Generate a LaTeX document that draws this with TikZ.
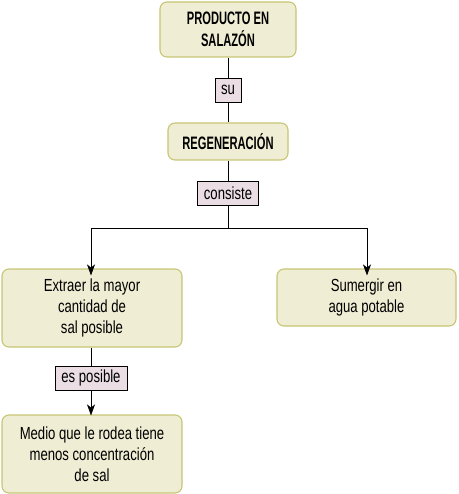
\documentclass[tikz,border=0pt]{standalone}
\usepackage{fontspec}
\setmainfont{Liberation Sans}[FakeStretch=0.75, BoldFeatures={FakeStretch=0.62}]
\usetikzlibrary{arrows.meta}
\definecolor{boxfill}{HTML}{EFEDD3}
\definecolor{boxline}{HTML}{C8C574}
\definecolor{labfill}{HTML}{EADDE4}
\tikzset{
  concept/.style={draw=boxline, fill=boxfill, line width=1.1pt, rounded corners=7pt, align=center, font=\fontsize{17.5}{21}\selectfont, inner sep=0pt},
  title/.style={concept, font=\bfseries\fontsize{18}{22}\selectfont},
  linkw/.style={draw=black, fill=labfill, line width=0.8pt, inner sep=0pt, font=\fontsize{17.5}{20}\selectfont},
  conn/.style={line width=0.8pt},
  arr/.style={conn, -{Stealth[length=11pt,width=8pt,inset=3pt]}}
}
\begin{document}
\begin{tikzpicture}[x=1pt,y=-1pt]
\useasboundingbox (0,0) rectangle (458,494);
\node[title, minimum width=136pt, minimum height=55pt] (prod) at (228,29.5) {PRODUCTO EN\\SALAZÓN};
\node[linkw, minimum width=26pt, minimum height=24pt] (su) at (228,90) {su};
\node[title, minimum width=120pt, minimum height=37pt] (reg) at (228,141.5) {REGENERACIÓN};
\node[linkw, minimum width=61pt, minimum height=24pt] (cons) at (228,193) {consiste};
\coordinate (split) at (228,228);
\coordinate (sl) at (91,228);
\coordinate (sr) at (367,228);
\node[concept, minimum width=180pt, minimum height=78pt] (extr) at (92,308) {Extraer la mayor\\cantidad de\\sal posible};
\node[concept, minimum width=179pt, minimum height=57pt] (sum) at (366.5,297.5) {Sumergir en\\agua potable};
\node[linkw, minimum width=72pt, minimum height=24pt] (espos) at (91,378) {es posible};
\node[concept, minimum width=180pt, minimum height=78pt] (medio) at (92,454) {Medio que le rodea tiene\\menos concentración\\de sal};
\draw[conn] (prod) -- (su);
\draw[conn] (su) -- (reg);
\draw[conn] (reg) -- (cons);
\draw[conn] (cons) -- (split);
\draw[conn] (sl) -- (sr);
\draw[arr] (sl) -- ([yshift=-7pt]extr.north -| sl);
\draw[arr] (sr) -- ([yshift=-7pt]sum.north -| sr);
\draw[conn] (extr.south -| espos) -- (espos);
\draw[arr] (espos) -- ([yshift=-1pt]medio.north -| espos);
\end{tikzpicture}
\end{document}
